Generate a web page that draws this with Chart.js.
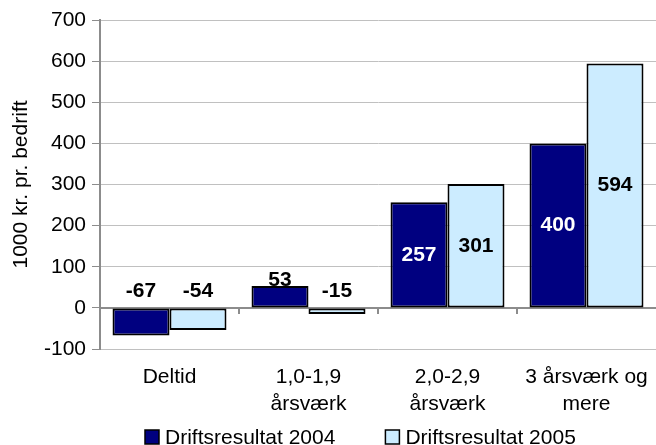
<!DOCTYPE html>
<html>
<head>
<meta charset="utf-8">
<script src="https://cdn.jsdelivr.net/npm/chart.js@4/dist/chart.umd.min.js"></script>
<style>
  html, body { margin: 0; padding: 0; background: #fff; }
  #wrap { width: 656px; height: 445px; position: relative; }
</style>
</head>
<body>
<div id="wrap"><canvas id="chart"></canvas></div>
<script>
// ---- data ----
const categories = [['Deltid'], ['1,0-1,9', 'årsværk'], ['2,0-2,9', 'årsværk'], ['3 årsværk og', 'mere']];
const seriesNames = ['Driftsresultat 2004', 'Driftsresultat 2005'];
const result2004 = [-67, 53, 257, 400];
const result2005 = [-54, -15, 301, 594];
const yMin = -100, yMax = 700, yStep = 100;
const yTitle = '1000 kr. pr. bedrift';

const FONT = "'Liberation Sans', Arial, sans-serif";
Chart.defaults.font.family = FONT;
Chart.defaults.font.size = 21;
Chart.defaults.color = '#000';

// value labels: centred in tall bars, just above the zero line for small ones
const valueLabels = {
  id: 'valueLabels',
  afterDatasetsDraw(chart) {
    const ctx = chart.ctx;
    const zero = chart.scales.y.getPixelForValue(0);
    ctx.save();
    ctx.font = 'bold 21px ' + FONT;
    ctx.textAlign = 'center';
    ctx.textBaseline = 'middle';
    chart.data.datasets.forEach((ds, di) => {
      chart.getDatasetMeta(di).data.forEach((bar, i) => {
        const v = ds.data[i];
        let ty;
        if (Math.abs(v) >= 100) ty = (bar.y + bar.base) / 2;
        else if (v >= 0) ty = bar.y - 6;
        else ty = zero - 17;
        ctx.fillStyle = Math.abs(v) >= 100 ? ds.labelColor : '#000';
        ctx.fillText(String(v), bar.x, ty);
      });
    });
    ctx.restore();
  }
};

// zero line with small ticks between categories
const zeroAxis = {
  id: 'zeroAxis',
  beforeDatasetsDraw(chart) {
    const ctx = chart.ctx, area = chart.chartArea;
    const x = chart.scales.x;
    const zero = Math.round(chart.scales.y.getPixelForValue(0));
    ctx.save();
    ctx.strokeStyle = '#8c8c8c';
    ctx.lineWidth = 2;
    ctx.beginPath();
    ctx.moveTo(area.left, zero);
    ctx.lineTo(area.right, zero);
    const half = (x.getPixelForValue(1) - x.getPixelForValue(0)) / 2;
    for (let i = 1; i < categories.length; i++) {
      const bx = Math.round(x.getPixelForValue(i) - half);
      ctx.moveTo(bx, zero);
      ctx.lineTo(bx, zero + 6);
    }
    ctx.stroke();
    ctx.restore();
  }
};

// legend drawn under the category labels
const bottomLegend = {
  id: 'bottomLegend',
  afterDraw(chart) {
    const ctx = chart.ctx;
    const cy = 437, box = 14, gap = 6, itemGap = 50;
    let x = 145;
    ctx.save();
    ctx.font = '21px ' + FONT;
    ctx.textBaseline = 'middle';
    ctx.textAlign = 'left';
    chart.data.datasets.forEach(ds => {
      ctx.fillStyle = ds.backgroundColor;
      ctx.fillRect(x, cy - box / 2, box, box);
      ctx.strokeStyle = '#000';
      ctx.lineWidth = 1.5;
      ctx.strokeRect(x, cy - box / 2, box, box);
      ctx.fillStyle = '#000';
      ctx.fillText(ds.label, x + box + gap, cy + 1);
      x += box + gap + ctx.measureText(ds.label).width + itemGap;
    });
    ctx.restore();
  }
};

new Chart(document.getElementById('chart'), {
  type: 'bar',
  data: {
    labels: categories,
    datasets: [
      { label: seriesNames[0], data: result2004, backgroundColor: '#000080', labelColor: '#fff' },
      { label: seriesNames[1], data: result2005, backgroundColor: '#ccecff', labelColor: '#000' }
    ].map(d => Object.assign(d, {
      borderColor: '#000', borderWidth: 2, borderSkipped: false,
      barPercentage: 1, categoryPercentage: 0.82
    }))
  },
  options: {
    responsive: true,
    maintainAspectRatio: false,
    animation: false,
    layout: { padding: { top: 20, right: 0, bottom: 0, left: 0 } },
    plugins: { legend: { display: false }, tooltip: { enabled: false } },
    scales: {
      x: {
        grid: { display: false, drawTicks: true, tickLength: 15 },
        border: { display: false },
        ticks: { padding: 0, font: { size: 21, lineHeight: 1.29 }, maxRotation: 0 },
        afterFit(scale) { scale.height = 96; }
      },
      y: {
        min: yMin, max: yMax,
        ticks: { stepSize: yStep, padding: 6, font: { size: 21 } },
        grid: { color: '#c0c0c0', lineWidth: 1, tickLength: 8, tickColor: '#8c8c8c' },
        border: { color: '#8c8c8c', width: 2 },
        title: { display: true, text: yTitle, font: { size: 21 }, padding: { top: 9, bottom: 0 } },
        afterFit(scale) { scale.width = 100; }
      }
    }
  },
  plugins: [zeroAxis, valueLabels, bottomLegend]
});
</script>
</body>
</html>
